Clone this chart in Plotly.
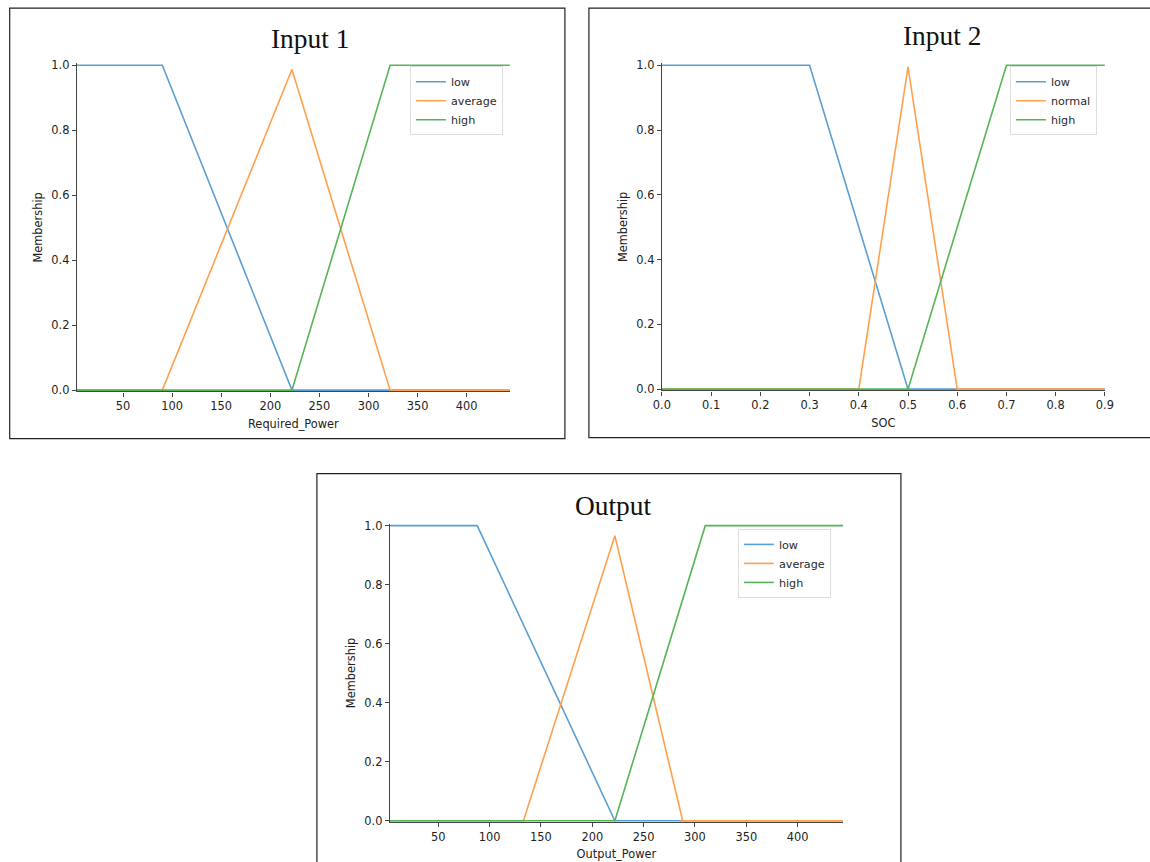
import plotly.graph_objects as go

# ---------------- data ----------------
# Input 1: Required_Power
req_low_x = [3, 90, 222, 444]
req_low_y = [1, 1, 0, 0]
req_avg_x = [3, 90, 222, 322, 444]
req_avg_y = [0, 0, 0.987, 0, 0]
req_high_x = [3, 222, 322, 444]
req_high_y = [0, 0, 1, 1]
req_ticks = [50, 100, 150, 200, 250, 300, 350, 400]

# Input 2: SOC
soc_low_x = [0.0, 0.3, 0.5, 0.9]
soc_low_y = [1, 1, 0, 0]
soc_norm_x = [0.0, 0.4, 0.5, 0.6, 0.9]
soc_norm_y = [0, 0, 0.995, 0, 0]
soc_high_x = [0.0, 0.5, 0.7, 0.9]
soc_high_y = [0, 0, 1, 1]
soc_ticks = [0.0, 0.1, 0.2, 0.3, 0.4, 0.5, 0.6, 0.7, 0.8, 0.9]

# Output: Output_Power
out_low_x = [3, 88, 222, 444]
out_low_y = [1, 1, 0, 0]
out_avg_x = [3, 133, 222, 288, 444]
out_avg_y = [0, 0, 0.966, 0, 0]
out_high_x = [3, 222, 310, 444]
out_high_y = [0, 0, 1, 1]
out_ticks = [50, 100, 150, 200, 250, 300, 350, 400]

y_ticks = [0.0, 0.2, 0.4, 0.6, 0.8, 1.0]

COLORS = ["#5a9fd4", "#ffa04d", "#55b455"]

W, H = 1162, 874
OX, OY, SX, SY = 8.1, 5.9, 0.9845, 0.984


def px(x):
    return ((x - OX) / SX) / W


def py(y):
    return 1 - ((y - OY) / SY) / H


fig = go.Figure()

panels = [
    dict(ax="", leg="legend", names=["low", "average", "high"],
         xs=[req_low_x, req_avg_x, req_high_x], ys=[req_low_y, req_avg_y, req_high_y]),
    dict(ax="2", leg="legend2", names=["low", "normal", "high"],
         xs=[soc_low_x, soc_norm_x, soc_high_x], ys=[soc_low_y, soc_norm_y, soc_high_y]),
    dict(ax="3", leg="legend3", names=["low", "average", "high"],
         xs=[out_low_x, out_avg_x, out_high_x], ys=[out_low_y, out_avg_y, out_high_y]),
]

for p in panels:
    for i in range(3):
        fig.add_trace(go.Scatter(
            x=p["xs"][i], y=p["ys"][i], mode="lines", name=p["names"][i],
            line=dict(color=COLORS[i], width=1.6),
            xaxis="x" + p["ax"], yaxis="y" + p["ax"], legend=p["leg"],
        ))

tickfont = dict(family="DejaVu Sans", size=11.4, color="#222")
titlefont = dict(family="DejaVu Sans", size=11.4, color="#222")


def xaxis(dom, rng, ticks, title, fmt=None, anchor="y"):
    d = dict(domain=dom, range=rng, tickvals=ticks, ticks="outside", ticklen=4,
             tickcolor="#444", showline=True, linecolor="#444", linewidth=1.3,
             showgrid=False, zeroline=False, tickfont=tickfont, anchor=anchor,
             title=dict(text=title, font=titlefont, standoff=7))
    if fmt:
        d["tickformat"] = fmt
    return d


def yaxis(dom, anchor):
    return dict(domain=dom, range=[-0.004, 1.006], tickvals=y_ticks, tickformat=".1f",
                ticks="outside", ticklen=4, tickcolor="#444", showline=True,
                linecolor="#444", linewidth=1.3, showgrid=False, zeroline=False,
                tickfont=tickfont, anchor=anchor,
                title=dict(text="Membership", font=titlefont, standoff=6))


legend_common = dict(font=dict(family="DejaVu Sans", size=11.2, color="#2a2a2a"),
                     bgcolor="rgba(255,255,255,0.85)", bordercolor="#dddddd",
                     borderwidth=1, xanchor="left", yanchor="top",
                     itemwidth=30, tracegroupgap=0)

fig.update_layout(
    width=W, height=H, margin=dict(l=0, r=0, t=0, b=0),
    paper_bgcolor="white", plot_bgcolor="white", showlegend=True,
    xaxis=xaxis([px(76), px(509)], [3, 444], req_ticks, "Required_Power", anchor="y"),
    yaxis=yaxis([py(391), py(64)], "x"),
    xaxis2=xaxis([px(661), px(1104)], [0, 0.9], soc_ticks, "SOC", fmt=".1f", anchor="y2"),
    yaxis2=yaxis([py(390), py(64)], "x2"),
    xaxis3=xaxis([px(389), px(842)], [3, 444], out_ticks, "Output_Power", anchor="y3"),
    yaxis3=yaxis([py(820), py(523)], "x3"),
    legend=dict(x=px(409), y=py(67), **legend_common),
    legend2=dict(x=px(1009), y=py(67), **legend_common),
    legend3=dict(x=px(737), y=py(528), **legend_common),
)

# panel borders
for (x0, y0, x1, y1) in [(8.8, 9, 564, 438), (588, 9, 1158, 437), (316, 473, 900, 868)]:
    fig.add_shape(type="rect", xref="paper", yref="paper",
                  x0=px(x0), y0=py(y1), x1=px(x1), y1=py(y0),
                  line=dict(color="#222", width=1.2), fillcolor="rgba(0,0,0,0)",
                  layer="below")

# panel titles
for (txt, cx, cy) in [("Input 1", 309, 40), ("Input 2", 941, 37), ("Output", 612, 505)]:
    fig.add_annotation(text=txt, xref="paper", yref="paper", x=px(cx), y=py(cy),
                       xanchor="center", yanchor="middle", showarrow=False,
                       font=dict(family="Liberation Serif", size=27.4, color="#111"))

fig.write_html(
    "out.html",
    config={"displayModeBar": False},
    post_script="document.body.style.margin='0';document.body.style.padding='0';"
                "document.body.style.overflow='hidden';",
)
